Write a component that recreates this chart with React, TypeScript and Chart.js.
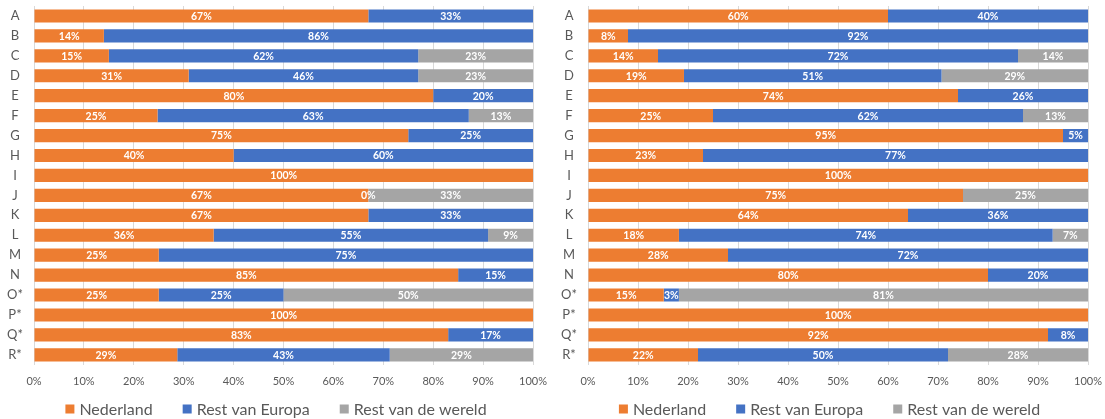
import React, { useEffect, useRef } from "react";
import { Chart, registerables } from "chart.js";

Chart.register(...registerables);

const categories = ["A", "B", "C", "D", "E", "F", "G", "H", "I", "J", "K", "L", "M", "N", "O*", "P*", "Q*", "R*"];
const seriesNames = ["Nederland", "Rest van Europa", "Rest van de wereld"];
const seriesColors = ["#ED7D31", "#4472C4", "#A5A5A5"];
const xTickValues = [0, 10, 20, 30, 40, 50, 60, 70, 80, 90, 100];

// Left chart (percentages as labelled)
const leftNederland = [67, 14, 15, 31, 80, 25, 75, 40, 100, 67, 67, 36, 25, 85, 25, 100, 83, 29];
const leftEuropa = [33, 86, 62, 46, 20, 63, 25, 60, null, 0, 33, 55, 75, 15, 25, null, 17, 43];
const leftWereld = [null, null, 23, 23, null, 13, null, null, null, 33, null, 9, null, null, 50, null, null, 29];

// Right chart (percentages as labelled)
const rightNederland = [60, 8, 14, 19, 74, 25, 95, 23, 100, 75, 64, 18, 28, 80, 15, 100, 92, 22];
const rightEuropa = [40, 92, 72, 51, 26, 62, 5, 77, null, null, 36, 74, 72, 20, 3, null, 8, 50];
const rightWereld = [null, null, 14, 29, null, 13, null, null, null, 25, null, 7, null, null, 81, null, null, 28];

const FONT = "Lato";

type Num = number | null;

function buildDatasets(series: Num[][]) {
  const sums = categories.map((_, i) => series.reduce((s, arr) => s + (arr[i] ?? 0), 0));
  return series.map((arr, si) => ({
    label: seriesNames[si],
    backgroundColor: seriesColors[si],
    borderWidth: 0,
    barPercentage: 0.66,
    categoryPercentage: 1,
    pctLabels: arr,
    data: arr.map((v, i) => (v === null ? null : (v / sums[i]) * 100)),
  }));
}

const valueLabels = {
  id: "valueLabels",
  afterDatasetsDraw(chart: any) {
    const ctx = chart.ctx;
    ctx.save();
    ctx.font = `bold 10.5px ${FONT}`;
    ctx.fillStyle = "#ffffff";
    ctx.textAlign = "center";
    ctx.textBaseline = "middle";
    chart.data.datasets.forEach((ds: any, di: number) => {
      const meta = chart.getDatasetMeta(di);
      meta.data.forEach((bar: any, i: number) => {
        const v = ds.pctLabels[i];
        if (v === null || v === undefined) return;
        const p = bar.getProps(["x", "base", "y"], true);
        ctx.fillText(v + "%", (p.x + p.base) / 2, p.y + 0.5);
      });
    });
    ctx.restore();
  },
};

const bottomLegend = {
  id: "bottomLegend",
  afterDraw(chart: any, _args: any, opts: any) {
    const ctx = chart.ctx;
    ctx.save();
    ctx.font = `${opts.fontSize}px ${FONT}`;
    const items = chart.data.datasets.map((ds: any) => ({ text: ds.label, color: ds.backgroundColor }));
    const widths = items.map((it: any) => opts.box + opts.boxGap + ctx.measureText(it.text).width);
    const total = widths.reduce((a: number, b: number) => a + b, 0) + opts.gap * (items.length - 1);
    let x = (chart.width - total) / 2;
    const y = chart.height - opts.bottom;
    ctx.textBaseline = "middle";
    ctx.textAlign = "left";
    items.forEach((it: any, i: number) => {
      ctx.fillStyle = it.color;
      ctx.fillRect(x, y - opts.box / 2, opts.box, opts.box);
      ctx.fillStyle = opts.color;
      ctx.fillText(it.text, x + opts.box + opts.boxGap, y + 0.5);
      x += widths[i] + opts.gap;
    });
    ctx.restore();
  },
};

function BarChart({ series, width, rightPad }: { series: Num[][]; width: number; rightPad: number }) {
  const ref = useRef<HTMLCanvasElement | null>(null);
  useEffect(() => {
    if (!ref.current) return;
    const chart = new Chart(ref.current, {
      type: "bar",
      data: { labels: categories, datasets: buildDatasets(series) as any },
      plugins: [valueLabels, bottomLegend],
      options: {
        indexAxis: "y",
        responsive: false,
        animation: false,
        layout: { padding: { top: 6, bottom: 21, left: 0, right: rightPad } },
        scales: {
          x: {
            stacked: true,
            min: 0,
            max: 100,
            afterBuildTicks: (scale: any) => {
              scale.ticks = xTickValues.map((v) => ({ value: v }));
            },
            afterFit: (scale: any) => {
              scale.paddingLeft = 0;
              scale.paddingRight = 0;
            },
            ticks: {
              callback: (v: any) => v + "%",
              color: "#595959",
              font: { family: FONT, size: 11 },
              padding: 10,
              maxRotation: 0,
            },
            grid: { color: "#D9D9D9", drawTicks: false, lineWidth: 1 },
            border: { display: false },
          },
          y: {
            stacked: true,
            afterFit: (scale: any) => {
              scale.width = 34;
              scale.paddingTop = 0;
              scale.paddingBottom = 0;
            },
            ticks: {
              color: "#595959",
              font: { family: FONT, size: 13 },
              crossAlign: "center",
              padding: 11,
            },
            grid: { display: false, drawTicks: false },
            border: { display: false },
          },
        },
        plugins: {
          legend: { display: false },
          tooltip: { enabled: false },
          bottomLegend: { fontSize: 16, box: 9, boxGap: 5, gap: 30, bottom: 10, color: "#595959" },
        } as any,
      },
    });
    return () => chart.destroy();
  }, []);
  return <canvas ref={ref} width={width} height={419} style={{ display: "block" }} />;
}

export default function App() {
  return (
    <div style={{ position: "fixed", left: 0, top: 0, width: 1105, height: 419, background: "#fff" }}>
      <div style={{ position: "absolute", left: 0, top: 0 }}>
        <BarChart series={[leftNederland, leftEuropa, leftWereld]} width={552} rightPad={19} />
      </div>
      <div style={{ position: "absolute", left: 554, top: 0 }}>
        <BarChart series={[rightNederland, rightEuropa, rightWereld]} width={551} rightPad={17} />
      </div>
    </div>
  );
}
